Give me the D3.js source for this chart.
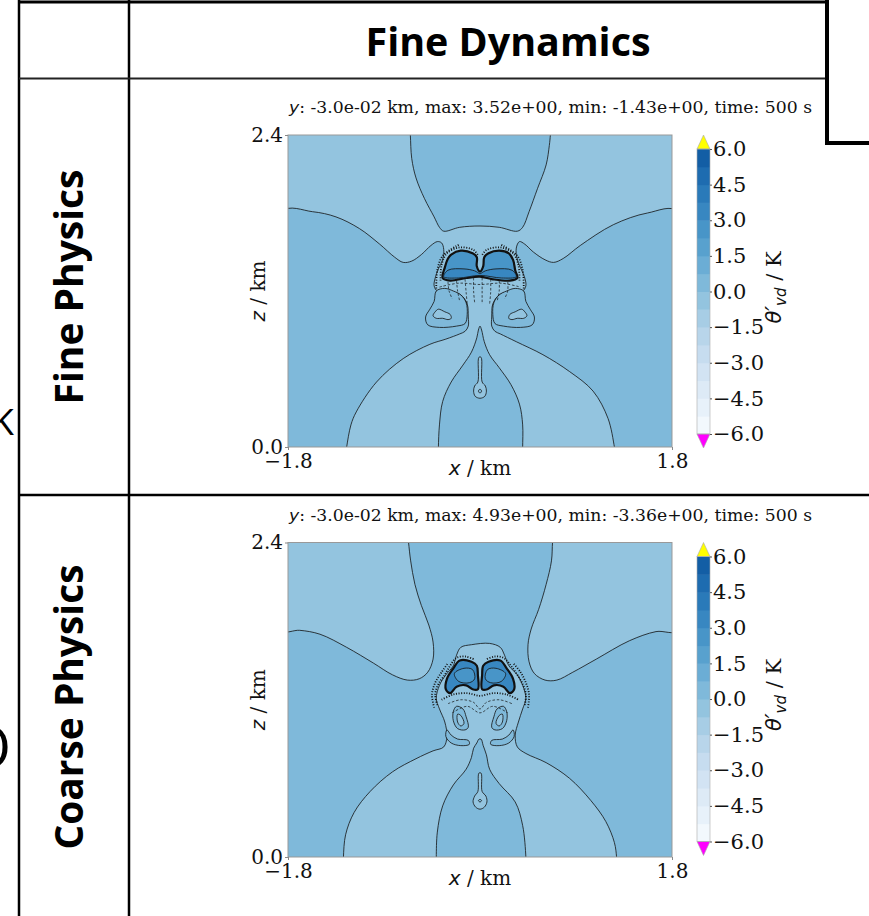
<!DOCTYPE html>
<html>
<head>
<meta charset="utf-8">
<script src="https://cdn.jsdelivr.net/npm/d3@7"></script>
<style>
  body { margin: 0; background: #fff; }
  svg { display: block; }
</style>
</head>
<body>
<svg id="chart"></svg>
<script>
// colourbar levels (K) and ticks
const levels = [-6, -5.25, -4.5, -3.75, -3, -2.25, -1.5, -0.75, 0, 0.75, 1.5, 2.25, 3, 3.75, 4.5, 5.25, 6]
const cbTicks = [-6, -4.5, -3, -1.5, 0, 1.5, 3, 4.5, 6]
const xTicks = [-1.8, 1.8]
const zTicks = [0, 2.4]
const colHeader = "Fine Dynamics"
const rowHeaders = ["Fine Physics", "Coarse Physics"]
const titleTexts = [
  ": -3.0e-02 km, max: 3.52e+00, min: -1.43e+00, time: 500 s",
  ": -3.0e-02 km, max: 4.93e+00, min: -3.36e+00, time: 500 s"
]

// band mid values used for the filled regions
const LIGHT = -0.375, MID = 0.375, CORE = 2.625, EDGE = 3.375

// ---- Fine physics contour outlines, [x km, z km] ----
const topCup1 = [[-0.66,2.5],[-0.653,2.4],[-0.64,2.22],[-0.60,2.07],[-0.52,1.91],[-0.43,1.77],[-0.38,1.69],[-0.34,1.66],[-0.19,1.69],[0.0,1.70],[0.18,1.69],[0.35,1.66],[0.40,1.69],[0.46,1.81],[0.54,1.99],[0.62,2.17],[0.65,2.32],[0.66,2.4],[0.67,2.5]]
const leftSide1 = [[-1.86,1.81],[-1.57,1.81],[-1.35,1.77],[-1.13,1.68],[-0.94,1.56],[-0.80,1.46],[-0.72,1.42],[-0.64,1.43],[-0.55,1.48],[-0.46,1.55],[-0.40,1.58],[-0.36,1.57],[-0.34,1.52],[-0.35,1.44],[-0.39,1.37],[-0.42,1.30],[-0.43,1.24],[-0.40,1.20],[-0.30,1.20],[-0.18,1.17],[-0.12,1.10],[-0.11,1.00],[-0.11,0.93],[-0.14,0.89],[-0.19,0.87],[-0.32,0.83],[-0.47,0.79],[-0.72,0.68],[-0.97,0.50],[-1.16,0.27],[-1.21,0.17],[-1.25,0.0],[-1.26,-0.06],[-1.86,-0.06]]
const rightSide1 = [[1.86,1.81],[1.57,1.80],[1.25,1.71],[0.94,1.55],[0.78,1.45],[0.69,1.42],[0.61,1.44],[0.50,1.50],[0.42,1.56],[0.37,1.58],[0.34,1.53],[0.35,1.44],[0.39,1.36],[0.42,1.30],[0.43,1.24],[0.40,1.20],[0.30,1.20],[0.18,1.17],[0.12,1.10],[0.11,1.00],[0.11,0.93],[0.14,0.89],[0.19,0.87],[0.34,0.81],[0.59,0.71],[0.84,0.58],[1.06,0.43],[1.20,0.22],[1.26,0.0],[1.27,-0.06],[1.86,-0.06]]
const dome1 = [[-0.39,-0.06],[-0.39,0.0],[-0.38,0.17],[-0.35,0.35],[-0.27,0.50],[-0.16,0.63],[-0.08,0.73],[-0.03,0.84],[-0.015,0.90],[0.0,0.93],[0.015,0.90],[0.04,0.81],[0.09,0.71],[0.18,0.61],[0.29,0.48],[0.37,0.33],[0.40,0.17],[0.40,0.0],[0.40,-0.06]]
const keyhole1 = [[-0.01,0.69],[0.01,0.69],[0.02,0.50],[0.05,0.47],[0.06,0.43],[0.045,0.39],[0.0,0.375],[-0.045,0.39],[-0.06,0.43],[-0.05,0.47],[-0.02,0.50]]
const keyDot1 = [[-0.015,0.43],[0,0.445],[0.015,0.43],[0,0.415]]
const lobeL1 = [[-0.41,1.20],[-0.43,1.12],[-0.47,1.06],[-0.51,1.00],[-0.49,0.94],[-0.38,0.92],[-0.22,0.93],[-0.14,0.95],[-0.12,1.02],[-0.13,1.11],[-0.18,1.17],[-0.25,1.20],[-0.33,1.22]]
const lobeR1 = [[0.41,1.20],[0.43,1.12],[0.47,1.06],[0.51,1.00],[0.49,0.94],[0.38,0.92],[0.22,0.93],[0.14,0.95],[0.12,1.02],[0.13,1.11],[0.18,1.17],[0.25,1.20],[0.33,1.22]]
const kidneyL1 = [[-0.42,1.04],[-0.39,1.06],[-0.33,1.04],[-0.28,1.02],[-0.27,0.99],[-0.30,0.98],[-0.35,0.99],[-0.41,0.99],[-0.44,1.01]]
const kidneyR1 = [[0.42,1.04],[0.39,1.06],[0.33,1.04],[0.28,1.02],[0.27,0.99],[0.30,0.98],[0.35,0.99],[0.41,0.99],[0.44,1.01]]
const cap1 = [[-0.27,1.48],[-0.18,1.51],[-0.07,1.49],[-0.03,1.46],[-0.03,1.39],[0.0,1.35],[0.03,1.39],[0.04,1.46],[0.08,1.49],[0.18,1.51],[0.27,1.49],[0.31,1.44],[0.33,1.36],[0.35,1.30],[0.28,1.28],[0.12,1.29],[0.0,1.31],[-0.13,1.30],[-0.28,1.28],[-0.35,1.30],[-0.33,1.38],[-0.30,1.45]]
const capBand1 = [[-0.34,1.31],[-0.30,1.36],[-0.15,1.37],[-0.05,1.355],[0,1.335],[0.05,1.355],[0.15,1.37],[0.30,1.36],[0.34,1.31],[0.2,1.30],[0,1.32],[-0.2,1.30]]
const haloL1 = [[-0.37,1.28],[-0.36,1.40],[-0.31,1.49],[-0.19,1.535],[-0.06,1.515],[-0.015,1.47]]
const haloR1 = [[0.37,1.28],[0.36,1.40],[0.31,1.49],[0.19,1.535],[0.06,1.515],[0.015,1.47]]
const haloOuterL1 = [[-0.41,1.22],[-0.40,1.36],[-0.35,1.47],[-0.20,1.555]]
const haloOuterR1 = [[0.41,1.22],[0.40,1.36],[0.35,1.47],[0.20,1.555]]
const skirt1 = [[-0.38,1.23],[-0.2,1.26],[0,1.25],[0.2,1.26],[0.38,1.23]]
const curtains1 = [
  [[-0.30,1.27],[-0.29,1.20],[-0.26,1.14]],
  [[-0.22,1.28],[-0.21,1.20],[-0.19,1.12]],
  [[-0.14,1.29],[-0.13,1.19],[-0.12,1.10]],
  [[-0.06,1.30],[-0.06,1.20],[-0.05,1.11]],
  [[0.02,1.30],[0.02,1.20],[0.02,1.10]],
  [[0.10,1.29],[0.10,1.19],[0.09,1.10]],
  [[0.18,1.28],[0.18,1.20],[0.16,1.12]],
  [[0.26,1.27],[0.26,1.20],[0.23,1.14]]
]

// ---- Coarse physics contour outlines, [x km, z km] ----
const topLeft2 = [[-1.86,2.47],[-0.68,2.47],[-0.67,2.40],[-0.65,2.26],[-0.61,2.08],[-0.55,1.92],[-0.48,1.77],[-0.44,1.64],[-0.44,1.51],[-0.49,1.41],[-0.57,1.36],[-0.68,1.35],[-0.82,1.39],[-1.00,1.48],[-1.25,1.60],[-1.50,1.70],[-1.69,1.73],[-1.86,1.73]]
const topRight2 = [[1.86,2.47],[0.69,2.47],[0.68,2.40],[0.67,2.26],[0.62,2.08],[0.55,1.89],[0.48,1.74],[0.45,1.62],[0.46,1.49],[0.51,1.40],[0.61,1.35],[0.72,1.35],[0.87,1.41],[1.09,1.51],[1.40,1.65],[1.65,1.72],[1.86,1.73]]
const centre2 = [[-1.28,-0.06],[-1.28,0.0],[-1.26,0.17],[-1.18,0.34],[-1.03,0.50],[-0.82,0.65],[-0.60,0.75],[-0.44,0.81],[-0.34,0.84],[-0.31,0.92],[-0.33,1.03],[-0.38,1.13],[-0.41,1.21],[-0.38,1.31],[-0.32,1.39],[-0.25,1.46],[-0.22,1.54],[-0.18,1.60],[-0.08,1.62],[0.09,1.63],[0.19,1.60],[0.23,1.54],[0.27,1.46],[0.35,1.39],[0.40,1.31],[0.43,1.21],[0.40,1.13],[0.36,1.03],[0.33,0.93],[0.35,0.84],[0.43,0.79],[0.62,0.72],[0.84,0.60],[1.04,0.43],[1.18,0.27],[1.26,0.11],[1.28,0.0],[1.28,-0.06]]
const dome2 = [[-0.41,-0.06],[-0.41,0.0],[-0.40,0.19],[-0.35,0.39],[-0.25,0.55],[-0.13,0.67],[-0.08,0.76],[-0.06,0.83],[-0.03,0.87],[-0.01,0.90],[0.01,0.90],[0.03,0.85],[0.06,0.78],[0.09,0.67],[0.18,0.56],[0.33,0.42],[0.40,0.24],[0.43,0.0],[0.43,-0.06]]
const keyhole2 = [[-0.01,0.64],[0.01,0.64],[0.02,0.50],[0.055,0.465],[0.065,0.42],[0.04,0.38],[0.0,0.365],[-0.04,0.38],[-0.065,0.42],[-0.05,0.465],[-0.02,0.50]]
const keyDot2 = [[-0.015,0.43],[0,0.44],[0.015,0.43],[0,0.42]]
const crescentL2 = [[-0.31,0.97],[-0.32,0.92],[-0.27,0.87],[-0.18,0.85],[-0.10,0.86],[-0.11,0.89],[-0.21,0.90],[-0.27,0.93]]
const crescentR2 = [[0.31,0.97],[0.32,0.92],[0.27,0.87],[0.18,0.85],[0.10,0.86],[0.11,0.89],[0.21,0.90],[0.27,0.93]]
const swirlL2 = [[-0.22,1.15],[-0.16,1.13],[-0.13,1.07],[-0.11,0.99],[-0.14,0.97],[-0.21,0.98],[-0.25,1.04],[-0.25,1.11]]
const swirlR2 = [[0.22,1.15],[0.16,1.13],[0.13,1.07],[0.11,0.99],[0.14,0.97],[0.21,0.98],[0.25,1.04],[0.25,1.11]]
const holeL2 = [[-0.21,1.09],[-0.18,1.08],[-0.15,1.02],[-0.18,1.00],[-0.21,1.03]]
const holeR2 = [[0.21,1.09],[0.18,1.08],[0.15,1.02],[0.18,1.00],[0.21,1.03]]
const wingL2 = [[-0.19,1.50],[-0.08,1.49],[-0.03,1.46],[-0.02,1.39],[-0.02,1.28],[-0.07,1.28],[-0.13,1.31],[-0.22,1.30],[-0.28,1.25],[-0.32,1.28],[-0.31,1.36],[-0.25,1.44]]
const wingR2 = [[0.19,1.50],[0.08,1.49],[0.03,1.46],[0.02,1.39],[0.02,1.28],[0.07,1.28],[0.13,1.31],[0.22,1.30],[0.28,1.25],[0.32,1.28],[0.31,1.36],[0.25,1.44]]
const streakL2 = [[-0.24,1.40],[-0.15,1.44],[-0.07,1.43],[-0.05,1.36],[-0.10,1.33],[-0.20,1.34]]
const streakR2 = [[0.24,1.40],[0.15,1.44],[0.07,1.43],[0.05,1.36],[0.10,1.33],[0.20,1.34]]
const envL2 = [[-0.40,1.16],[-0.42,1.24],[-0.39,1.32],[-0.33,1.39],[-0.28,1.46],[-0.22,1.52],[-0.14,1.53],[-0.06,1.51]]
const envR2 = [[0.42,1.16],[0.43,1.24],[0.40,1.32],[0.35,1.39],[0.29,1.46],[0.22,1.52],[0.14,1.53],[0.06,1.51]]
const envOuterL2 = [[-0.43,1.14],[-0.45,1.24],[-0.42,1.33],[-0.36,1.41],[-0.30,1.48]]
const envOuterR2 = [[0.45,1.14],[0.46,1.24],[0.43,1.33],[0.38,1.41],[0.31,1.48]]
const underRing2 = [[-0.36,1.20],[-0.25,1.24],[-0.12,1.25],[0,1.23],[0.12,1.25],[0.25,1.24],[0.36,1.20]]
const hoodA2 = [[-0.30,1.17],[-0.18,1.20],[-0.06,1.18],[0,1.13],[0.06,1.18],[0.18,1.20],[0.30,1.17]]
const hoodB2 = [[-0.26,1.10],[-0.12,1.15],[0,1.10],[0.12,1.15],[0.26,1.10]]

// ---- scene tables ----
const panels = [
  {
    id: 1, y0: 135, y1: 447, background: LIGHT, title: titleTexts[0],
    regions: [
      { pts: topCup1, v: MID }, { pts: leftSide1, v: MID }, { pts: rightSide1, v: MID },
      { pts: dome1, v: MID }, { pts: keyhole1, v: LIGHT }, { pts: keyDot1, v: MID },
      { pts: lobeL1, v: MID }, { pts: lobeR1, v: MID },
      { pts: kidneyL1, v: LIGHT }, { pts: kidneyR1, v: LIGHT },
      { pts: cap1, v: CORE, thick: true }, { pts: capBand1, v: EDGE }
    ],
    lines: [
      { pts: haloL1, dots: true }, { pts: haloR1, dots: true },
      { pts: haloOuterL1, dots: true }, { pts: haloOuterR1, dots: true },
      { pts: skirt1 },
      ...curtains1.map(c => ({ pts: c }))
    ]
  },
  {
    id: 2, y0: 542.5, y1: 857, background: MID, title: titleTexts[1],
    regions: [
      { pts: topLeft2, v: LIGHT }, { pts: topRight2, v: LIGHT }, { pts: centre2, v: LIGHT },
      { pts: dome2, v: MID }, { pts: keyhole2, v: LIGHT }, { pts: keyDot2, v: MID },
      { pts: crescentL2, v: MID }, { pts: crescentR2, v: MID },
      { pts: swirlL2, v: MID }, { pts: swirlR2, v: MID },
      { pts: holeL2, v: LIGHT }, { pts: holeR2, v: LIGHT },
      { pts: wingL2, v: EDGE, thick: true }, { pts: wingR2, v: EDGE, thick: true },
      { pts: streakL2, v: CORE }, { pts: streakR2, v: CORE }
    ],
    lines: [
      { pts: envL2, dots: true }, { pts: envR2, dots: true },
      { pts: envOuterL2, dots: true }, { pts: envOuterR2, dots: true },
      { pts: underRing2, dots: true },
      { pts: hoodA2 }, { pts: hoodB2 }
    ]
  }
]

const tScale = d3.scaleLinear().domain([-6, 6]).range([0.0, 0.85])
const colour = v => d3.interpolateBlues(tScale(v))

const svg = d3.select("#chart")
    .attr("width", 869)
    .attr("height", 916)
    .attr("viewBox", [0, 0, 869, 916])

const serif = "'DejaVu Serif', serif"
const mathFont = "'DejaVu Sans', sans-serif"

function drawPanel(p) {
  const x = d3.scaleLinear().domain([-1.8, 1.8]).range([288, 672])
  const z = d3.scaleLinear().domain([0, 2.4]).range([p.y1, p.y0])
  const closed = d3.line().x(d => x(d[0])).y(d => z(d[1])).curve(d3.curveCatmullRomClosed.alpha(0.5))
  const open = d3.line().x(d => x(d[0])).y(d => z(d[1])).curve(d3.curveCatmullRom.alpha(0.5))

  svg.append("clipPath").attr("id", "clip" + p.id)
    .append("rect")
      .attr("x", x(-1.8)).attr("y", z(2.4))
      .attr("width", x(1.8) - x(-1.8)).attr("height", z(0) - z(2.4))

  const field = svg.append("g").attr("clip-path", `url(#clip${p.id})`)

  field.append("rect")
      .attr("x", x(-1.8)).attr("y", z(2.4))
      .attr("width", x(1.8) - x(-1.8)).attr("height", z(0) - z(2.4))
      .attr("fill", colour(p.background))

  field.append("g")
    .selectAll("path")
    .data(p.regions)
    .join("path")
      .attr("d", d => closed(d.pts))
      .attr("fill", d => colour(d.v))
      .attr("stroke", "#111")
      .attr("stroke-width", d => d.thick ? 2.2 : 0.8)
      .attr("stroke-linejoin", "round")

  field.append("g")
    .selectAll("path")
    .data(p.lines)
    .join("path")
      .attr("d", d => open(d.pts))
      .attr("fill", "none")
      .attr("stroke", "#111")
      .attr("stroke-width", d => d.dots ? 1.8 : 0.7)
      .attr("stroke-dasharray", d => d.dots ? "1,1.6" : "2.5,1.8")

  // frame
  svg.append("rect")
      .attr("x", x(-1.8)).attr("y", z(2.4))
      .attr("width", x(1.8) - x(-1.8)).attr("height", z(0) - z(2.4))
      .attr("fill", "none").attr("stroke", "#999").attr("stroke-width", 1)

  const fmt = d3.format(".1f")
  svg.append("g")
      .attr("transform", `translate(0,${z(0)})`)
      .call(d3.axisBottom(x).tickValues(xTicks).tickSize(3).tickPadding(4).tickFormat(fmt))
      .call(g => g.select(".domain").remove())
      .call(g => g.selectAll("line").attr("stroke", "#888"))
      .call(g => g.selectAll("text").attr("font-family", serif).attr("font-size", 20).attr("fill", "#111"))

  svg.append("g")
      .attr("transform", `translate(${x(-1.8)},0)`)
      .call(d3.axisLeft(z).tickValues(zTicks).tickSize(3).tickPadding(2).tickFormat(fmt))
      .call(g => g.select(".domain").remove())
      .call(g => g.selectAll("line").attr("stroke", "#888"))
      .call(g => g.selectAll("text").attr("font-family", serif).attr("font-size", 20).attr("fill", "#111"))

  // axis labels
  const xl = svg.append("text")
      .attr("x", (x(-1.8) + x(1.8)) / 2).attr("y", z(0) + 28)
      .attr("text-anchor", "middle").attr("font-size", 20).attr("fill", "#111")
  xl.append("tspan").attr("font-family", mathFont).attr("font-style", "italic").text("x")
  xl.append("tspan").attr("font-family", serif).text(" / km")

  const zl = svg.append("text")
      .attr("transform", `translate(265,${(z(0) + z(2.4)) / 2}) rotate(-90)`)
      .attr("text-anchor", "middle").attr("font-size", 20).attr("fill", "#111")
  zl.append("tspan").attr("font-family", mathFont).attr("font-style", "italic").text("z")
  zl.append("tspan").attr("font-family", serif).text(" / km")

  // title
  const tt = svg.append("text")
      .attr("x", 289).attr("y", p.y0 - 22)
      .attr("font-size", 16.5).attr("fill", "#111")
      .attr("textLength", 523).attr("lengthAdjust", "spacingAndGlyphs")
  tt.append("tspan").attr("font-family", mathFont).attr("font-style", "italic").text("y")
  tt.append("tspan").attr("font-family", serif).text(p.title)

  // colourbar
  const cb = d3.scaleLinear().domain([-6, 6]).range([p.y0 + 299, p.y0 + 14])
  const bx0 = 697, bx1 = 710
  const bands = d3.pairs(levels)
  svg.append("g")
    .selectAll("rect")
    .data(bands)
    .join("rect")
      .attr("x", bx0).attr("width", bx1 - bx0)
      .attr("y", d => cb(d[1])).attr("height", d => cb(d[0]) - cb(d[1]) + 0.5)
      .attr("fill", d => colour((d[0] + d[1]) / 2))
  svg.append("path")
      .attr("d", `M${bx0},${cb(6)}L${bx1},${cb(6)}L${(bx0 + bx1) / 2},${cb(6) - 14}Z`)
      .attr("fill", "#ffff00").attr("stroke", "#aaa").attr("stroke-width", 0.6)
  svg.append("path")
      .attr("d", `M${bx0},${cb(-6)}L${bx1},${cb(-6)}L${(bx0 + bx1) / 2},${cb(-6) + 14}Z`)
      .attr("fill", "#ff00ff").attr("stroke", "#aaa").attr("stroke-width", 0.6)
  svg.append("rect")
      .attr("x", bx0).attr("y", cb(6)).attr("width", bx1 - bx0).attr("height", cb(-6) - cb(6))
      .attr("fill", "none").attr("stroke", "#aaa").attr("stroke-width", 0.6)
  svg.append("g")
      .attr("transform", `translate(${bx1},0)`)
      .call(d3.axisRight(cb).tickValues(cbTicks).tickSize(2).tickPadding(1).tickFormat(fmt))
      .call(g => g.select(".domain").remove())
      .call(g => g.selectAll("line").attr("stroke", "#555"))
      .call(g => g.selectAll("text").attr("font-family", serif).attr("font-size", 21).attr("fill", "#111"))

  const cl = svg.append("text")
      .attr("transform", `translate(781,${cb(0) - 4}) rotate(-90)`)
      .attr("text-anchor", "middle").attr("font-size", 21).attr("fill", "#111")
  cl.append("tspan").attr("font-family", mathFont).attr("font-style", "italic").text("θ′")
  cl.append("tspan").attr("font-family", mathFont).attr("font-style", "italic")
      .attr("font-size", 15).attr("dy", 5).text("vd")
  cl.append("tspan").attr("font-family", serif).attr("dy", -5).text(" / K")
}

panels.forEach(drawPanel)

// table grid
const grid = svg.append("g").attr("stroke", "#000").attr("fill", "none")
grid.append("line").attr("x1", 19).attr("x2", 827).attr("y1", 2).attr("y2", 2).attr("stroke-width", 3)
grid.append("line").attr("x1", 19).attr("x2", 19).attr("y1", 0).attr("y2", 916).attr("stroke-width", 2.5)
grid.append("line").attr("x1", 129).attr("x2", 129).attr("y1", 0).attr("y2", 916).attr("stroke-width", 2.5)
grid.append("line").attr("x1", 19).attr("x2", 827).attr("y1", 78.5).attr("y2", 78.5).attr("stroke-width", 2).attr("stroke", "#222")
grid.append("line").attr("x1", 19).attr("x2", 869).attr("y1", 495).attr("y2", 495).attr("stroke-width", 2.5)
grid.append("line").attr("x1", 827).attr("x2", 827).attr("y1", 0).attr("y2", 143).attr("stroke-width", 4)
grid.append("line").attr("x1", 825).attr("x2", 869).attr("y1", 143).attr("y2", 143).attr("stroke-width", 4)

// headers
svg.append("text")
    .attr("x", 508).attr("y", 56)
    .attr("text-anchor", "middle")
    .attr("font-family", "'Open Sans', sans-serif").attr("font-weight", 700).attr("font-size", 39)
    .attr("textLength", 285).attr("lengthAdjust", "spacingAndGlyphs")
    .text(colHeader)

const rowCentres = [287, 707]
const rowLengths = [235, 285]
rowHeaders.forEach((t, i) => {
  svg.append("text")
      .attr("transform", `translate(83,${rowCentres[i]}) rotate(-90)`)
      .attr("text-anchor", "middle")
      .attr("font-family", "'Open Sans', sans-serif").attr("font-weight", 700).attr("font-size", 39)
      .attr("textLength", rowLengths[i]).attr("lengthAdjust", "spacingAndGlyphs")
      .text(t)
})

// letters of the neighbouring column, cut by the page edge
svg.append("text").attr("x", 14).attr("y", 435).attr("text-anchor", "end")
    .attr("font-family", "'Open Sans', sans-serif").attr("font-size", 37).text("K")
svg.append("text").attr("x", 11).attr("y", 768).attr("text-anchor", "end")
    .attr("font-family", "'Open Sans', sans-serif").attr("font-size", 58).text("O")
</script>
</body>
</html>
